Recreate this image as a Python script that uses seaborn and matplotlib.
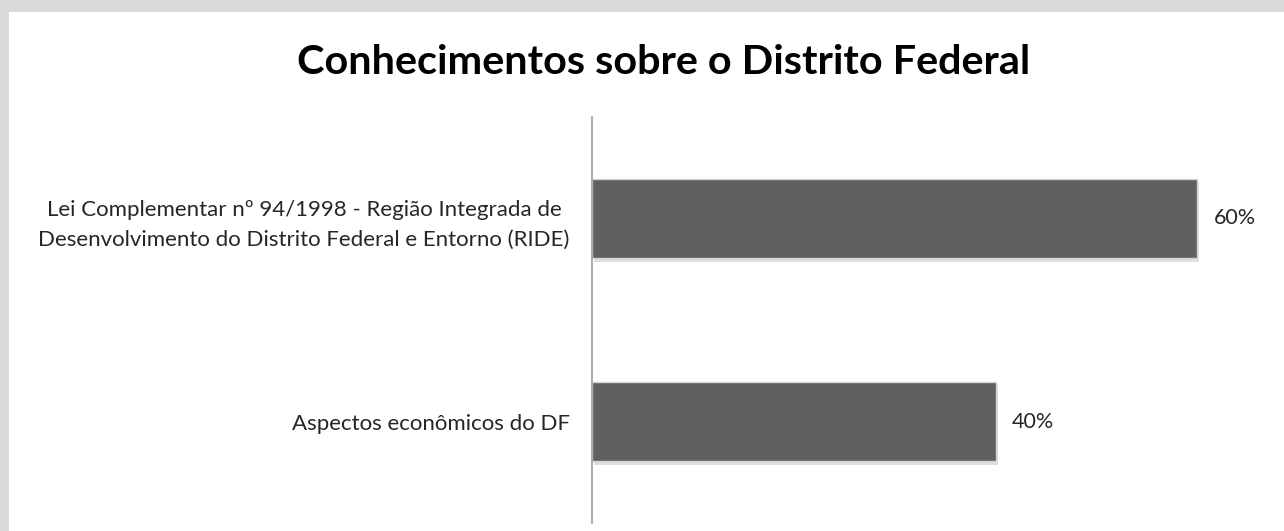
import matplotlib
matplotlib.use("Agg")
import matplotlib.pyplot as plt
import matplotlib.patheffects as pe
from matplotlib.patches import Rectangle
import seaborn as sns

# Data
categories = [
    "Lei Complementar nº 94/1998 - Região Integrada de\nDesenvolvimento do Distrito Federal e Entorno (RIDE)",
    "Aspectos econômicos do DF",
]
values = [0.60, 0.40]
value_labels = ["60%", "40%"]

sns.set_style("white")
plt.rcParams["font.family"] = ["Lato", "DejaVu Sans"]

fig = plt.figure(figsize=(12.84, 5.31), dpi=100)
fig.patch.set_facecolor("#d9d9d9")
# white chart area inside the gray frame
fig.patches.append(Rectangle((9 / 1284, 0), 1 - 9 / 1284, 1 - 12 / 531,
                             transform=fig.transFigure, facecolor="white",
                             edgecolor="none", zorder=-10))

ax = fig.add_axes([592 / 1284, 8 / 531, (1270 - 592) / 1284, 406 / 531])
ax.set_facecolor("none")

sns.barplot(x=values, y=categories, orient="h", color="#606060", width=0.39,
            saturation=1, edgecolor="#d4d4d4", linewidth=1, ax=ax)
for p in ax.patches:
    p.set_path_effects([pe.SimplePatchShadow(offset=(1.5, -2.5), shadow_rgbFace="#b0b0b0", alpha=0.4),
                        pe.Normal()])

ax.bar_label(ax.containers[0], labels=value_labels, padding=12, fontsize=15.5, color="#262626")

ax.set_xlim(0, 0.672)
ax.set_ylim(1.5, -0.5)
ax.set_xticks([])
ax.set_xlabel("")
ax.set_ylabel("")
for s in ["top", "right", "bottom"]:
    ax.spines[s].set_visible(False)
ax.spines["left"].set_color("#a6a6a6")
ax.spines["left"].set_linewidth(1.3)
ax.tick_params(axis="y", length=0, pad=16, labelsize=16, labelcolor="#262626")
for t in ax.get_yticklabels():
    t.set_horizontalalignment("right")
    t.set_multialignment("center")
    t.set_linespacing(1.6)

fig.text(664 / 1284, 1 - 62 / 531, "Conhecimentos sobre o Distrito Federal",
         ha="center", va="center", fontsize=29.8, fontweight="bold", color="black")

fig.savefig("out.png", dpi=100, facecolor=fig.get_facecolor())
